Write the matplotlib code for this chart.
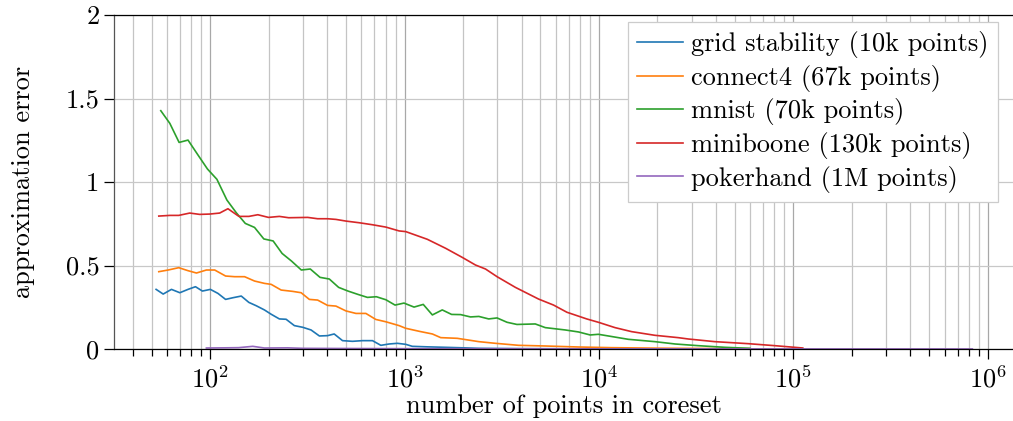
import numpy as np
import matplotlib
matplotlib.use('Agg')
from matplotlib import pyplot as plt
from matplotlib.ticker import LogLocator, NullFormatter

# Computer Modern 风格的字体
plt.rcParams['font.family'] = 'cmr10'
plt.rcParams['mathtext.fontset'] = 'cm'
plt.rcParams['axes.formatter.use_mathtext'] = True
plt.rcParams['font.size'] = 19

# 各数据集: 核心集大小 与 近似误差
grid_x = [52.7, 57.3, 63.2, 69.8, 76.9, 84.0, 91.2, 100.2, 109.6, 120.0, 130.9, 144.5,
          158.1, 172.6, 190.1, 206.0, 227.0, 245.8, 271.1, 299.2, 330.3, 364.6, 401.8,
          434.5, 479.7, 539.6, 607.8, 683.9, 755.1, 833.2, 918.3, 1014, 1096, 1300,
          1627, 2000, 2411, 4000, 8500]
grid_y = [0.357, 0.329, 0.357, 0.337, 0.357, 0.373, 0.347, 0.357, 0.333, 0.297, 0.307, 0.317,
          0.279, 0.259, 0.234, 0.208, 0.180, 0.178, 0.140, 0.130, 0.114, 0.078, 0.080,
          0.090, 0.050, 0.046, 0.050, 0.050, 0.022, 0.030, 0.034, 0.028, 0.016, 0.013,
          0.010, 0.007, 0.004, 0.002, 0.001]

connect_x = [54.4, 60.8, 68.9, 76.9, 85.0, 95.6, 105.5, 120.0, 133.6, 150.3, 169.1, 190.1,
             206.0, 231.8, 265.9, 293.7, 323.7, 357.1, 401.8, 443.6, 499.4, 562.3, 632.4,
             711.2, 801.2, 937.6, 1014, 1200, 1390, 1535, 1866, 2411, 2936, 3864, 5297,
             7855, 11580, 20000, 35000, 60000]
connect_y = [0.463, 0.473, 0.487, 0.469, 0.455, 0.473, 0.473, 0.437, 0.433, 0.433, 0.407, 0.393,
             0.387, 0.353, 0.345, 0.337, 0.297, 0.293, 0.261, 0.257, 0.228, 0.213, 0.213,
             0.177, 0.163, 0.140, 0.124, 0.105, 0.090, 0.068, 0.064, 0.044, 0.034, 0.022, 0.018,
             0.012, 0.008, 0.005, 0.003, 0.002]

mnist_x = [55.7, 62.0, 69.2, 76.9, 86.5, 96.8, 108.3, 121.9, 136.2, 151.6, 169.1, 188.8,
           210.8, 234.5, 261.8, 294.4, 327.4, 367.3, 410.2, 457.9, 511.6, 575.4, 644.2,
           716.2, 801.2, 893.4, 993, 1119, 1248, 1390, 1563, 1746, 1942, 2183, 2411, 2710,
           2992, 3367, 3786, 4706, 5297, 6711, 7855, 9014, 9937, 14160, 19410, 24660,
           32360, 44560, 59840]
mnist_y = [1.427, 1.351, 1.237, 1.251, 1.162, 1.078, 1.016, 0.892, 0.816, 0.752, 0.728, 0.659,
           0.647, 0.572, 0.527, 0.473, 0.479, 0.429, 0.419, 0.369, 0.347, 0.327, 0.309,
           0.313, 0.295, 0.263, 0.275, 0.251, 0.267, 0.204, 0.234, 0.207, 0.206, 0.192, 0.195,
           0.180, 0.186, 0.160, 0.147, 0.150, 0.128, 0.114, 0.102, 0.084, 0.088, 0.058, 0.044,
           0.030, 0.020, 0.010, 0.004]

mini_x = [54.4, 62.0, 68.9, 78.5, 88.3, 99.4, 111.9, 123.4, 140.6, 158.1, 175.8, 199.5,
          227.0, 253.5, 317.5, 357.1, 401.8, 443.6, 499.4, 584.4, 683.9, 801.2, 937.6,
          1014, 1309, 1627, 1978, 2316, 2609, 2992, 3718, 4893, 5843, 6845, 8656, 9937,
          12100, 14720, 19410, 25570, 28780, 39440, 58480, 80150, 111900]
mini_y = [0.796, 0.800, 0.800, 0.814, 0.806, 0.808, 0.814, 0.840, 0.794, 0.794, 0.804, 0.788,
          0.794, 0.786, 0.788, 0.780, 0.780, 0.776, 0.766, 0.756, 0.744, 0.730, 0.707,
          0.703, 0.657, 0.603, 0.549, 0.503, 0.479, 0.433, 0.369, 0.299, 0.263, 0.220, 0.180,
          0.160, 0.128, 0.104, 0.082, 0.068, 0.060, 0.044, 0.032, 0.020, 0.006]

poker_x = [95.6, 120, 140, 165.6, 190, 250, 300, 500, 1000, 10000, 100000, 834000]
poker_y = [0.006, 0.007, 0.008, 0.016, 0.006, 0.007, 0.004, 0.003, 0.002, 0.001, 0.0005, 0.0003]

labels = ['grid stability (10k points)', 'connect4 (67k points)', 'mnist (70k points)',
          'miniboone (130k points)', 'pokerhand (1M points)']
y_ticks = [0, 0.5, 1, 1.5, 2]
y_tick_labels = ['0', '0.5', '1', '1.5', '2']

fig = plt.figure(figsize=(10.13, 4.21), dpi=100)
ax = fig.add_axes([114 / 1013, 1 - 349 / 421, 1 - 114 / 1013, (349 - 15) / 421])

series = [(grid_x, grid_y), (connect_x, connect_y), (mnist_x, mnist_y),
          (mini_x, mini_y), (poker_x, poker_y)]
for (xs, ys), lab in zip(series, labels):
    ax.plot(xs, ys, lw=1.2, label=lab)

ax.set_xscale('log')
ax.set_xlim(32, 1.35e6)
ax.set_ylim(0, 2)
ax.set_yticks(y_ticks)
ax.set_yticklabels(y_tick_labels)
ax.xaxis.set_major_locator(LogLocator(base=10, numticks=20))
ax.xaxis.set_minor_locator(LogLocator(base=10, subs=np.arange(2, 10), numticks=20))
ax.xaxis.set_minor_formatter(NullFormatter())

ax.grid(True, which='major', axis='x', color='#a8a8a8', lw=0.9)
ax.grid(True, which='minor', axis='x', color='#c4c4c4', lw=0.9)
ax.grid(True, which='major', axis='y', color='#c8c8c8', lw=0.9)
ax.set_axisbelow(True)

ax.tick_params(which='major', direction='out', length=7, width=0.9, color='black')
ax.tick_params(which='minor', direction='out', length=5, width=0.9, color='black')
ax.tick_params(axis='x', which='major', pad=5)
ax.spines['right'].set_visible(False)
for s in ['left', 'top', 'bottom']:
    ax.spines[s].set_linewidth(0.9)
ax.spines['left'].set_color('#555555')

ax.set_xlabel('number of points in coreset', labelpad=1)
ax.set_ylabel('approximation error', labelpad=22)

leg = ax.legend(loc='upper right', bbox_to_anchor=(0.983, 0.979), borderaxespad=0,
                fancybox=False, edgecolor='#cccccc', framealpha=1, handlelength=1.75,
                handletextpad=0.3, labelspacing=0.25, borderpad=0.35)
leg.get_frame().set_linewidth(0.9)

plt.savefig('out.png', dpi=100)
